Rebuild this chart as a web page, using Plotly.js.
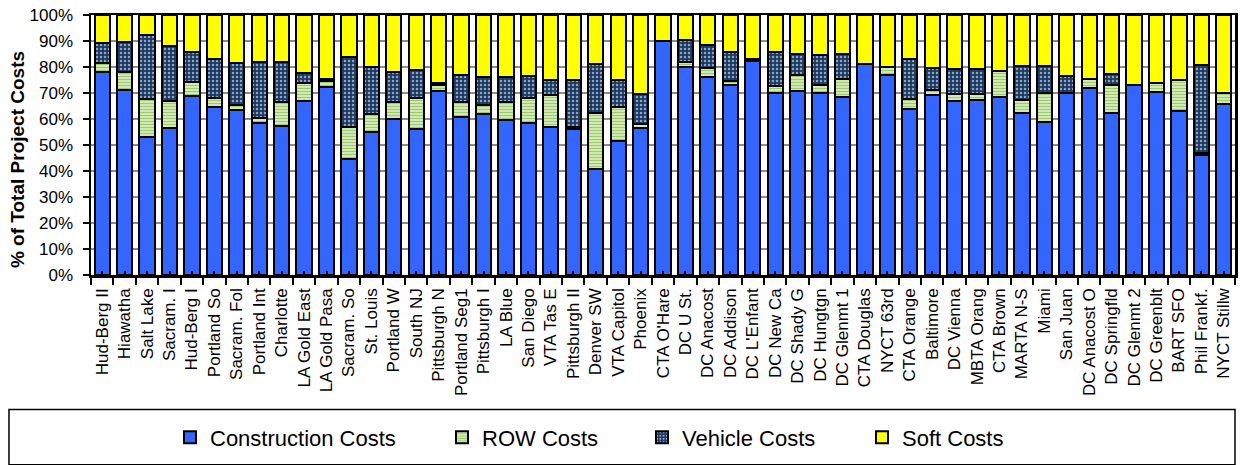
<!DOCTYPE html>
<html>
<head>
<meta charset="utf-8">
<script src="https://cdn.plot.ly/plotly-3.0.1.min.js"></script>
<style>html,body{margin:0;padding:0;background:#fff;}#chart{width:1242px;height:465px;}</style>
</head>
<body>
<div id="chart"></div>
<script>
const categories = ["Hud-Berg II","Hiawatha","Salt Lake","Sacram. I","Hud-Berg I","Portland So","Sacram. Fol","Portland Int","Charlotte","LA Gold East","LA Gold Pasa","Sacram. So","St. Louis","Portland W","South NJ","Pittsburgh N","Portland Seg1","Pittsburgh I","LA Blue","San Diego","VTA Tas E","Pittsburgh II","Denver SW","VTA Capitol","Phoenix","CTA O'Hare","DC U St.","DC Anacost","DC Addison","DC L'Enfant","DC New Ca","DC Shady G","DC Hungtgn","DC Glenmt 1","CTA Douglas","NYCT 63rd","CTA Orange","Baltimore","DC Vienna","MBTA Orang","CTA Brown","MARTA N-S","Miami","San Juan","DC Anacost O","DC Springfld","DC Glenmt 2","DC Greenblt","BART SFO","Phil Frankf.","NYCT Stillw"];

const constructionCosts = [78,71,53,56.4,69,64.5,63.5,58.6,57.25,67,72.25,44.75,55.1,59.9,56,70.75,60.75,61.75,59.75,58.5,56.75,56,40.75,51.6,56.5,89.9,80.1,76,72.9,82.25,70.1,70.75,70.1,68.6,81.25,77,63.75,69.1,66.9,67.25,68.6,62.25,58.9,69.9,72,62.25,73.1,70.4,62.9,46.25,65.6];
const rowCosts = [3.5,7.25,14.6,10.35,5.1,3.75,2,1.9,9.35,6.9,2.5,12.25,6.65,6.6,12,2.5,5.75,3.75,6.75,9.75,12.35,1,21.75,13.15,1.75,0,1.65,3.75,1.85,0,2.5,6.15,3.15,6.9,0,2.9,3.85,2,2.7,2.35,10,5.15,11.2,0,3.5,10.75,0,3.35,12,0.75,4.4];
const vehicleCosts = [7.75,11.25,24.65,21.5,11.65,15,16.1,21.5,15.4,3.7,0.5,26.75,18.15,11.5,11,0.5,10.5,10.5,9.5,8.15,6,17.9,18.75,10.15,11.25,0,8.75,8.85,11,1,13.15,8.2,11.5,9.6,0,0,15.3,8.4,9.65,9.65,0,13,10.4,6.5,0,4.5,0,0,0,33.75,0];
const softCosts = [10.75,10.5,7.75,11.75,14.25,16.75,18.4,18,18,22.4,24.75,16.25,20.1,22,21,26.25,23,24,24,23.6,24.9,25.1,18.75,25.1,30.5,10.1,9.5,11.4,14.25,16.75,14.25,14.9,15.25,14.9,18.75,20.1,17.1,20.5,20.75,20.75,21.4,19.6,19.5,23.6,24.5,22.5,26.9,26.25,25.1,19.25,30];
const yTickVals = [0,10,20,30,40,50,60,70,80,90,100];

const FONT = "Liberation Sans, Arial, Helvetica, sans-serif";
const outline = {color:"#000", width:2};

const traces = [
  {type:"bar", name:"Construction Costs", x:categories, y:constructionCosts, legend:"legend",
   marker:{color:"#3366FF", line:outline}},
  {type:"bar", name:"ROW Costs", x:categories, y:rowCosts, legend:"legend2",
   marker:{color:"#c4e0a0", line:outline,
     pattern:{shape:"-", fgcolor:"#9ccc6a", bgcolor:"#d8ecc0", size:3, solidity:0.4}}},
  {type:"bar", name:"Vehicle Costs", x:categories, y:vehicleCosts, legend:"legend3",
   marker:{color:"#1d3a5e", line:outline,
     pattern:{shape:".", fgcolor:"#8aa6c8", bgcolor:"#1d3a5e", size:4, solidity:0.3}}},
  {type:"bar", name:"Soft Costs", x:categories, y:softCosts, legend:"legend4",
   marker:{color:"#FFFF00", line:outline}},
  {type:"scatter", x:categories, y:categories.map(()=>0), xaxis:"x2", mode:"none",
   showlegend:false, hoverinfo:"skip"}
];

function leg(xpx){
  return {orientation:"h", x:(xpx-91)/1144, xanchor:"left", y:-0.625, yanchor:"middle",
    traceorder:"normal", font:{family:FONT, size:22, color:"#000"},
    bgcolor:"rgba(0,0,0,0)", borderwidth:0};
}

const layout = {
  width:1242, height:465,
  margin:{l:91, r:7, t:15, b:183},
  paper_bgcolor:"#fff", plot_bgcolor:"#fff",
  barmode:"stack", bargap:0.32,
  font:{family:FONT, color:"#000", size:17},
  showlegend:true,
  xaxis:{type:"category", showline:true, linecolor:"#000", linewidth:2.5, mirror:true,
    ticks:"outside", tickson:"boundaries", ticklen:7, tickwidth:2, tickcolor:"#000",
    tickangle:-90, tickfont:{family:FONT, size:17, color:"#000"}, ticklabelstandoff:4,
    showgrid:false, zeroline:false, fixedrange:true},
  xaxis2:{type:"category", overlaying:"x", matches:"x", side:"bottom", ticks:"inside",
    ticklen:4, tickwidth:2, tickcolor:"#000", showticklabels:false, showgrid:false,
    showline:false, zeroline:false},
  yaxis:{range:[0,100], tickvals:yTickVals, ticktext:yTickVals.map(v=>v+"%"),
    showline:true, linecolor:"#000", linewidth:2.5, mirror:true,
    ticks:"outside", ticklen:6, tickwidth:2, tickcolor:"#000",
    tickfont:{family:FONT, size:17, color:"#000"}, ticklabelstandoff:6,
    showgrid:true, gridcolor:"#8c8c8c", gridwidth:1.5, zeroline:false, fixedrange:true},
  legend:leg(170), legend2:leg(442), legend3:leg(642), legend4:leg(862),
  shapes:[{type:"rect", xref:"paper", yref:"paper", x0:-0.0717, x1:1, y0:-0.517, y1:-0.73,
    line:{color:"#000", width:1.5}, fillcolor:"rgba(0,0,0,0)"}],
  annotations:[{text:"<b>% of Total Project Costs</b>", xref:"paper", yref:"paper",
    x:0, xshift:-74, y:0.442, xanchor:"center", yanchor:"middle", textangle:-90,
    showarrow:false, font:{family:FONT, size:19, color:"#000"}}]
};

Plotly.newPlot("chart", traces, layout, {displayModeBar:false, staticPlot:true});
</script>
</body>
</html>
